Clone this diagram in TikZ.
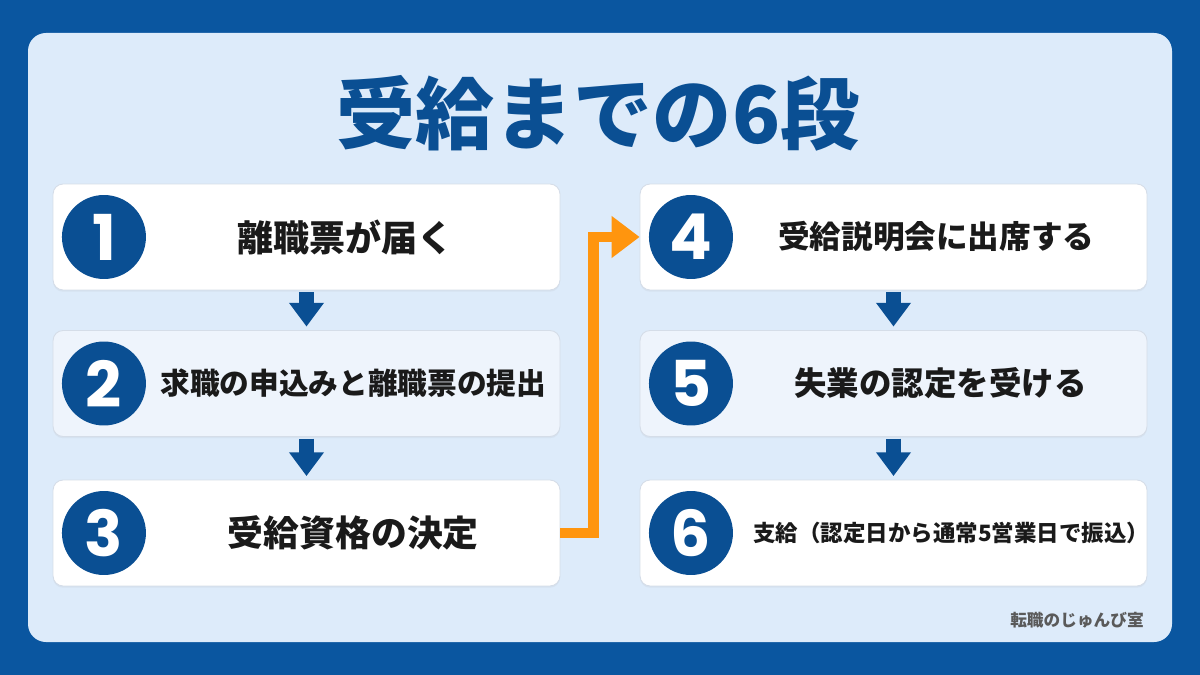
\documentclass[tikz,border=0pt]{standalone}
\usepackage{fontspec}
\setmainfont{Noto Sans CJK JP}
\newfontfamily\numfont{Poppins}
\usetikzlibrary{positioning,calc,arrows.meta,shadows}
\definecolor{frameblue}{HTML}{0A56A0}
\definecolor{panelblue}{HTML}{DDEBFA}
\definecolor{stepblue}{HTML}{0A4F93}
\definecolor{flowline}{HTML}{FF950E}
\definecolor{cardline}{HTML}{D5DDE8}
\definecolor{cardtint}{HTML}{EEF4FC}
\definecolor{inkblack}{HTML}{1A1A1A}
\definecolor{footgray}{HTML}{5A5A5A}
\begin{document}
\begin{tikzpicture}[x=0.02cm, y=-0.02cm,
		card/.style={draw=cardline, line width=0.5pt, rounded corners=0.2cm,
			minimum width=10.14cm, minimum height=2.12cm,
			drop shadow={opacity=0.08, shadow xshift=0pt, shadow yshift=-1pt}},
		num/.style={circle, fill=stepblue, minimum size=1.68cm, inner sep=0pt,
			text=white, font=\numfont\bfseries\fontsize{36}{36}\selectfont},
		step arrow/.style={-{Triangle[width=19pt, length=13.5pt]}, line width=8pt,
			stepblue, shorten >=2pt, shorten <=1pt},
		flow/.style={-{Triangle[width=23pt, length=16pt]}, line width=6.2pt, flowline}]
	\useasboundingbox (0,0) rectangle (1200,675);
	\fill[frameblue] (0,0) rectangle (1200,675);
	\fill[panelblue, rounded corners=0.36cm] (28,33) rectangle (1172,642);
	\node[font=\bfseries\fontsize{45}{45}\selectfont, text=stepblue] (title) at (598,113) {受給までの6段};
	\foreach \i/\x/\y/\fillc in {1/306.5/237/white, 2/306.5/383.5/cardtint, 3/306.5/533/white,
	  4/893.5/237/white, 5/893.5/383.5/cardtint, 6/893.5/533/white}{
	  \node[card, fill=\fillc] (b\i) at (\x,\y) {};
	  \node[num, right=0.18cm of b\i.west] (n\i) {\i};
	}
	\foreach \i/\s/\dx/\txt in {1/20.5/-8/離職票が届く, 2/16.9/0/求職の申込みと離職票の提出, 3/20.4/0/受給資格の決定,
	  4/18/-4/受給説明会に出席する, 5/18.5/0/失業の認定を受ける, 6/12.8/11/支給（認定日から通常5営業日で振込）}{
	  \node[inner sep=0pt, text=inkblack, font=\bfseries\fontsize{\s}{\s}\selectfont]
	    (t\i) at ($(n\i.east)!0.5!(b\i.east)+(\dx,0)$) {\txt};
	}
	\draw[step arrow] (b1) -- (b2);
	\draw[step arrow] (b2) -- (b3);
	\draw[step arrow] (b4) -- (b5);
	\draw[step arrow] (b5) -- (b6);
	\draw[flow] (b3.east) -- ++(33,0) |- (b4.west);
	\node[anchor=east, font=\bfseries\fontsize{9.5}{9.5}\selectfont, text=footgray] (credit) at (1150,620) {転職のじゅんび室};
\end{tikzpicture}
\end{document}
